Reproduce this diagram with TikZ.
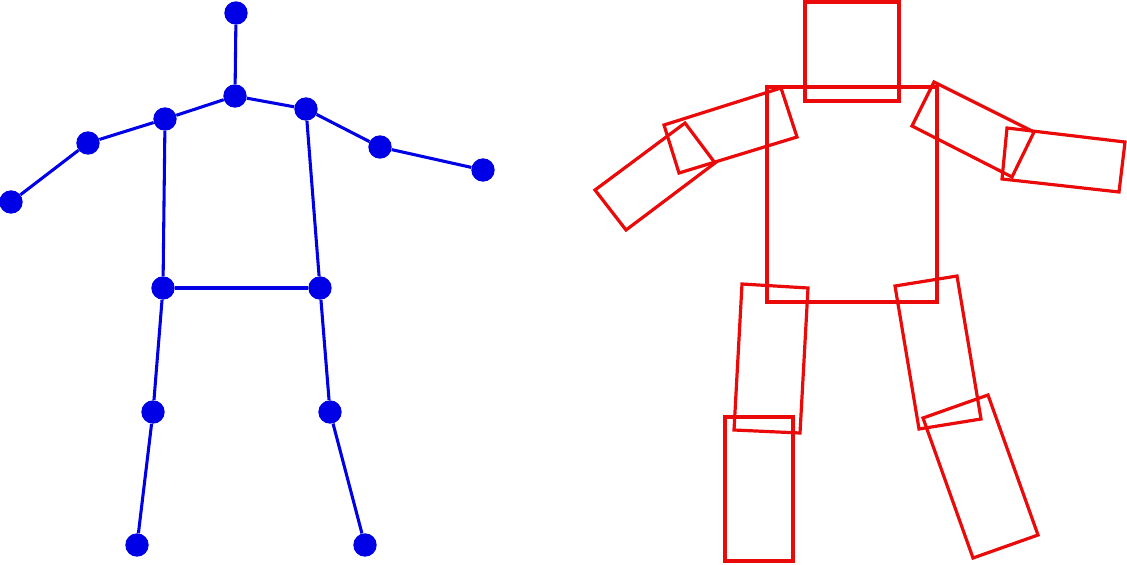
\documentclass[tikz,border=0pt]{standalone}
\definecolor{jointblue}{RGB}{0,0,230}
\definecolor{boxred}{RGB}{235,10,10}
\begin{document}
\begin{tikzpicture}[x=0.75pt,y=-0.75pt,
  joint/.style={circle,fill=jointblue,inner sep=0pt,minimum size=17.5pt},
  bone/.style={draw=jointblue,line width=2.3pt},
  part/.style={draw=boxred,line width=2.4pt,line join=miter}]
\useasboundingbox (0,0) rectangle (1127,564);
% skeleton joints
\node[joint] (head) at (236,13) {};
\node[joint] (neck) at (235,96) {};
\node[joint] (lsh) at (165,119) {};
\node[joint] (lel) at (88,143) {};
\node[joint] (lwr) at (11,202) {};
\node[joint] (rsh) at (306,109) {};
\node[joint] (rel) at (380,147) {};
\node[joint] (rwr) at (483,170) {};
\node[joint] (lhip) at (163,288) {};
\node[joint] (rhip) at (320,288) {};
\node[joint] (lkn) at (153,412) {};
\node[joint] (lan) at (137,545) {};
\node[joint] (rkn) at (330,412) {};
\node[joint] (ran) at (365,545) {};
% bones
\draw[bone] (head) -- (neck);
\draw[bone] (neck) -- (lsh);
\draw[bone] (lsh) -- (lel);
\draw[bone] (lel) -- (lwr);
\draw[bone] (neck) -- (rsh);
\draw[bone] (rsh) -- (rel);
\draw[bone] (rel) -- (rwr);
\draw[bone] (lsh) -- (lhip);
\draw[bone] (rsh) -- (rhip);
\draw[bone] (lhip) -- (rhip);
\draw[bone] (lhip) -- (lkn);
\draw[bone] (lkn) -- (lan);
\draw[bone] (rhip) -- (rkn);
\draw[bone] (rkn) -- (ran);
% body part boxes
\draw[part] (805,2) rectangle (899,101);
\draw[part] (767,87) rectangle (937,302);
\draw[part] (664,125) -- (781,88) -- (797,137) -- (679,173) -- cycle;
\draw[part] (685,123) -- (715,163) -- (626,230) -- (595,190) -- cycle;
\draw[part] (934,82) -- (1034,132) -- (1012,177) -- (912,126) -- cycle;
\draw[part] (1007,128) -- (1125,142) -- (1119,192) -- (1002,179) -- cycle;
\draw[part] (742,284) -- (808,288) -- (800,433) -- (734,430) -- cycle;
\draw[part] (725,417) rectangle (793,561);
\draw[part] (895,286) -- (957,276) -- (981,419) -- (919,429) -- cycle;
\draw[part] (923,418) -- (988,395) -- (1038,535) -- (973,558) -- cycle;
\end{tikzpicture}
\end{document}
